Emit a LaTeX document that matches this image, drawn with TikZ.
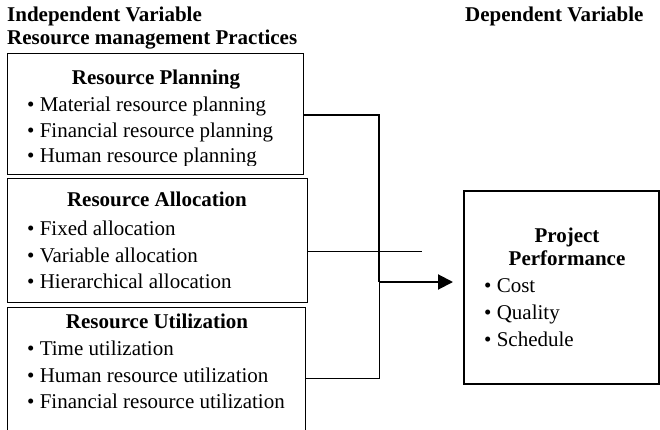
\documentclass[tikz,border=0pt]{standalone}
\usepackage{fontspec}
\setmainfont{Liberation Serif}
\usetikzlibrary{arrows.meta}
\begin{document}
\begin{tikzpicture}[x=1pt,y=-1pt,
  box/.style={draw, line width=1.1pt, anchor=north west, inner sep=0pt},
  ppbox/.style={draw, line width=2pt, anchor=north west, inner sep=0pt},
  hd/.style={font=\fontsize{21}{25}\selectfont\bfseries, anchor=base, inner sep=0pt},
  top/.style={font=\fontsize{21}{25}\selectfont\bfseries, anchor=base west, inner sep=0pt},
  item/.style={font=\fontsize{21}{25}\selectfont, anchor=base west, inner sep=0pt},
  thickline/.style={line width=2pt},
  thinline/.style={line width=1pt},
]
\clip (0,0) rectangle (660,430);
\fill[white] (0,0) rectangle (660,430);
% headings
\node[top] (iv) at (7,22) {Independent Variable};
\node[top] (rmp) at (7,45) {Resource management Practices};
\node[top] (dv) at (465,22) {Dependent Variable};
% boxes
\node[box, minimum width=296pt, minimum height=121pt] (b1) at (7,53) {};
\node[box, minimum width=300pt, minimum height=124pt] (b2) at (7,178) {};
\node[box, minimum width=298pt, minimum height=140pt] (b3) at (7,307) {};
\node[ppbox, minimum width=195pt, minimum height=193pt] (pp) at (463,190) {};
% box 1
\node[hd] (t1) at (156,85) {Resource Planning};
\node[item] (i11) at (27,112) {\textbullet\ Material resource planning};
\node[item] (i12) at (27,138) {\textbullet\ Financial resource planning};
\begin{scope}
\clip (7,140) rectangle (303,165.5);
\node[item] (i13) at (27,163) {\textbullet\ Human resource planning};
\end{scope}
% box 2
\node[hd] (t2) at (157,207) {Resource Allocation};
\node[item] (i21) at (27,235) {\textbullet\ Fixed allocation};
\node[item] (i22) at (27,262) {\textbullet\ Variable allocation};
\node[item] (i23) at (27,288) {\textbullet\ Hierarchical allocation};
% box 3
\node[hd] (t3) at (157,328) {Resource Utilization};
\node[item] (i31) at (27,355) {\textbullet\ Time utilization};
\node[item] (i32) at (27,382) {\textbullet\ Human resource utilization};
\node[item] (i33) at (27,408) {\textbullet\ Financial resource utilization};
% project performance
\node[hd] (pt1) at (567,242) {Project};
\node[hd] (pt2) at (567,265) {Performance};
\node[item] (p1) at (484,292) {\textbullet\ Cost};
\node[item] (p2) at (484,319) {\textbullet\ Quality};
\node[item] (p3) at (484,346) {\textbullet\ Schedule};
% connectors
\coordinate (j) at (379,282);
\coordinate (e2) at (422,251);
\draw[thickline] (b1.east |- 0,115) -| (j);
\draw[thinline] (b2.east |- e2) -- (e2);
\draw[thinline] (b3.east |- 0,378) -| (j);
\draw[thickline, -{Triangle[length=15pt,width=15pt]}, shorten >=10pt] (j) -- (pp.west |- j);
\end{tikzpicture}
\end{document}
